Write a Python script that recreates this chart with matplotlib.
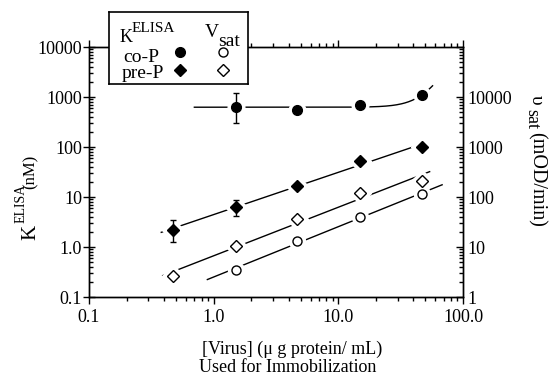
import numpy as np
import matplotlib
matplotlib.use("Agg")
import matplotlib.pyplot as plt
from matplotlib.ticker import LogLocator, FixedLocator, FixedFormatter, NullFormatter

plt.rcParams['font.family'] = ['Liberation Serif', 'DejaVu Serif']
plt.rcParams['mathtext.fontset'] = 'custom'
plt.rcParams['mathtext.rm'] = 'Liberation Serif'
plt.rcParams['mathtext.it'] = 'Liberation Serif:italic'
plt.rcParams['mathtext.bf'] = 'Liberation Serif:bold'

# ---- data ----
virus_all = [0.47, 1.5, 4.7, 15, 47]
virus_co = [1.5, 4.7, 15, 47]

coP_K = [640, 550, 690, 1110]
coP_K_lo = [306, 550, 690, 1110]
coP_K_hi = [1220, 550, 690, 1110]

preP_K = [2.2, 6.4, 16.6, 53, 99]
preP_K_lo = [1.28, 4.2, 15.0, 53, 99]
preP_K_hi = [3.47, 8.7, 18.5, 53, 99]

preP_vsat = [2.63, 10.5, 36, 119, 209]
coP_vsat = [3.47, 13.2, 40.4, 113]

# x extents of the drawn fit lines
range_preP_K = [0.38, 51]
range_preP_v = [0.39, 54]
range_coP_v = [0.89, 68]
range_coP_K = [0.70, 57]

xticks = [0.1, 1, 10, 100]
xticklabels = ['0.1', '1.0', '10.0', '100.0']
lticks = [0.1, 1, 10, 100, 1000, 10000]
lticklabels = ['0.1', '1.0', '10', '100', '1000', '10000']
rticks = [1, 10, 100, 1000, 10000, 100000]
rticklabels = ['1', '10', '100', '1000', '10000', '']

W, H = 549, 374
fig = plt.figure(figsize=(W / 100, H / 100), dpi=100)
ax = fig.add_axes([89 / W, 1 - 297 / H, (463 - 89) / W, (297 - 47) / H])
ax2 = ax.twinx()

for a in (ax, ax2):
    a.set_xscale('log')
    a.set_yscale('log')
ax.set_xlim(0.1, 100)
ax.set_ylim(0.1, 10000)
ax2.set_ylim(1, 100000)


def loglog_fit(x, y, rng):
    p = np.polyfit(np.log10(x), np.log10(y), 1)
    xx = np.logspace(np.log10(rng[0]), np.log10(rng[1]), 100)
    return xx, 10 ** np.polyval(p, np.log10(xx))


# fit lines
xx, yy = loglog_fit(virus_all, preP_K, range_preP_K)
ax.plot(xx, yy, color='black', lw=1.0, zorder=2)
xx, yy = loglog_fit(virus_all, preP_vsat, range_preP_v)
ax2.plot(xx, yy, color='black', lw=1.0, zorder=2)
xx, yy = loglog_fit(virus_co, coP_vsat, range_coP_v)
ax2.plot(xx, yy, color='black', lw=1.0, zorder=2)

# co-P K: constant + x^4 model fitted by least squares
xc = np.array(virus_co, float)
A = np.vstack([np.ones_like(xc), xc ** 4]).T
coef, *_ = np.linalg.lstsq(A, np.array(coP_K, float), rcond=None)
xx = np.logspace(np.log10(range_coP_K[0]), np.log10(range_coP_K[1]), 200)
ax.plot(xx, coef[0] + coef[1] * xx ** 4, color='black', lw=1.0, zorder=2)


def points(a, x, y, marker, filled, ms, lo=None, hi=None):
    a.plot(x, y, ls='none', marker=marker, ms=ms + 5, color='white',
           mec='white', zorder=3)
    if lo is not None:
        y = np.array(y, float)
        yerr = [y - np.array(lo), np.array(hi) - y]
        a.errorbar(x, y, yerr=yerr, fmt='none', ecolor='black', elinewidth=1,
                   capsize=2.5, capthick=1, zorder=3.5)
    a.plot(x, y, ls='none', marker=marker, ms=ms,
           mfc='black' if filled else 'white', mec='black', mew=1.0, zorder=4)


points(ax, virus_co, coP_K, 'o', True, 7, coP_K_lo, coP_K_hi)
points(ax, virus_all, preP_K, 'D', True, 6, preP_K_lo, preP_K_hi)
points(ax2, virus_all, preP_vsat, 'D', False, 6)
points(ax2, virus_co, coP_vsat, 'o', False, 6.5)

# ticks
ax.xaxis.set_major_locator(FixedLocator(xticks))
ax.xaxis.set_major_formatter(FixedFormatter(xticklabels))
ax.xaxis.set_minor_locator(LogLocator(base=10, subs=np.arange(2, 10)))
ax.xaxis.set_minor_formatter(NullFormatter())
ax.yaxis.set_major_locator(FixedLocator(lticks))
ax.yaxis.set_major_formatter(FixedFormatter(lticklabels))
ax.yaxis.set_minor_locator(LogLocator(base=10, subs=np.arange(2, 10)))
ax.yaxis.set_minor_formatter(NullFormatter())
ax2.yaxis.set_major_locator(FixedLocator(rticks))
ax2.yaxis.set_major_formatter(FixedFormatter(rticklabels))
ax2.yaxis.set_minor_locator(LogLocator(base=10, subs=np.arange(2, 10)))
ax2.yaxis.set_minor_formatter(NullFormatter())

ax.tick_params(axis='x', which='major', direction='out', length=5, width=1,
               top=True, bottom=True, labelsize=13, pad=4)
ax.tick_params(axis='x', which='minor', direction='out', length=3, width=1,
               top=True, bottom=True)
ax.tick_params(axis='y', which='major', direction='inout', length=8, width=1,
               left=True, right=False, labelsize=13, pad=1)
ax.tick_params(axis='y', which='minor', direction='in', length=3, width=1,
               left=True, right=False)
ax2.tick_params(axis='y', which='major', direction='in', length=5, width=1,
                right=True, left=False, labelsize=13, pad=3)
ax2.tick_params(axis='y', which='minor', direction='in', length=3, width=1,
                right=True, left=False)
for a in (ax, ax2):
    for s in a.spines.values():
        s.set_linewidth(1.0)


def ftext(px, py, s, size, rot=0, **kw):
    return fig.text(px / W, 1 - py / H, s, fontsize=size, rotation=rot,
                    rotation_mode='anchor', ha='left', va='baseline', **kw)


# x label (two lines)
fig.text(292 / W, 1 - 353.5 / H, '[Virus] (\u03bc g protein/ mL)', fontsize=13,
         ha='center', va='baseline')
fig.text(288 / W, 1 - 371.5 / H, 'Used for Immobilization', fontsize=13,
         ha='center', va='baseline')

# left y label: K^ELISA (nM)
ftext(35, 240, 'K', 15, rot=90)
ftext(25, 223, 'ELISA', 10, rot=90)
ftext(35, 189, '(nM)', 12, rot=90)

# right y label: upsilon_sat (mOD/min)
ftext(532, 95, '\u03c5', 14, rot=270)
ftext(527, 109, 'sat', 13, rot=270)
ftext(532, 132, '(mOD/min)', 14.5, rot=270)

# legend box
lx0, lx1, ly0, ly1 = 109, 247.7, 11.7, 84
lg = fig.add_axes([lx0 / W, 1 - ly1 / H, (lx1 - lx0) / W, (ly1 - ly0) / H], zorder=10)
lg.set_xlim(0, 1)
lg.set_ylim(0, 1)
lg.set_xticks([])
lg.set_yticks([])
for s in lg.spines.values():
    s.set_linewidth(1.2)
lg.text(0.079, 0.585, 'K', fontsize=13, va='baseline', ha='left')
lg.text(0.164, 0.723, 'ELISA', fontsize=11, va='baseline', ha='left')
lg.text(0.692, 0.654, 'V', fontsize=14, va='baseline', ha='left')
lg.text(0.788, 0.526, 'sat', fontsize=14, va='baseline', ha='left', clip_on=True)
lg.text(0.103, 0.31, 'co-P', fontsize=14, va='baseline', ha='left')
lg.text(0.091, 0.08, 'pre-P', fontsize=14, va='baseline', ha='left')
lg.plot([0.512], [0.447], 'o', ms=7, color='black')
lg.plot([0.824], [0.447], 'o', ms=6.5, mfc='white', mec='black', mew=1)
lg.plot([0.512], [0.194], 'D', ms=6, color='black')
lg.plot([0.824], [0.194], 'D', ms=6, mfc='white', mec='black', mew=1)

fig.savefig('out.png', dpi=100)
